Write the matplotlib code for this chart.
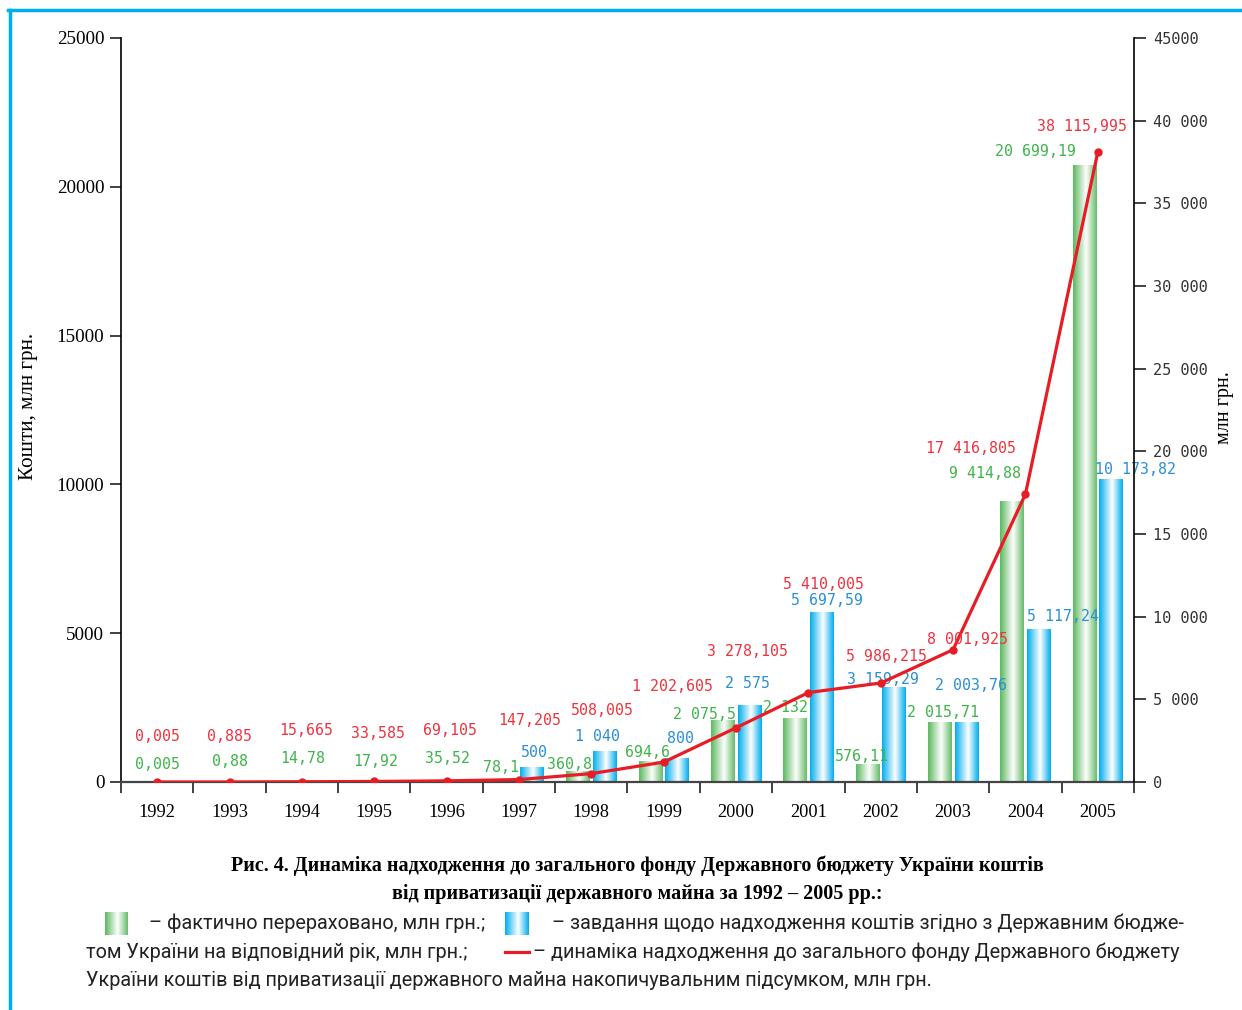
import numpy as np
import matplotlib
matplotlib.use('Agg')
import matplotlib.pyplot as plt
from matplotlib.colors import LinearSegmentedColormap
from matplotlib.lines import Line2D

# дані
years = ['1992', '1993', '1994', '1995', '1996', '1997', '1998',
         '1999', '2000', '2001', '2002', '2003', '2004', '2005']
fact = [0.005, 0.88, 14.78, 17.92, 35.52, 78.1, 360.8, 694.6,
        2075.5, 2132, 576.11, 2015.71, 9414.88, 20699.19]
plan = [0, 0, 0, 0, 0, 500, 1040, 800, 2575, 5697.59, 3159.29,
        2003.76, 5117.24, 10173.82]
cumul = [0.005, 0.885, 15.665, 33.585, 69.105, 147.205, 508.005, 1202.605,
         3278.105, 5410.005, 5986.215, 8001.925, 17416.805, 38115.995]

left_ticks = [0, 5000, 10000, 15000, 20000, 25000]
right_ticks = [0, 5000, 10000, 15000, 20000, 25000, 30000, 35000, 40000, 45000]
right_labels = ['0', '5 000', '10 000', '15 000', '20 000', '25 000',
                '30 000', '35 000', '40 000', '45000']

# зсуви підписів (пікселі)
red_off = [(0, 45), (0, 45), (4, 51), (4, 48), (3, 50), (11, 59), (11, 63),
           (9, 76), (11, 76), (15, 108), (6, 27), (14, 10), (-54, 46), (-16, 25)]
green_off = [(14, 17), (14, 20), (14, 23), (15, 20), (14, 22), (-5, 12), (-9, 7),
             (-3, 9), (-18, 6), (-10, 11), (-6, 8), (3, 10), (-27, 28), (-49, 14)]
blue_off = [None] * 5 + [(2, 15), (-7, 15), (4, 20), (-2, 22), (5, 12), (-11, 8),
                         (5, 37), (24, 13), (24, 10)]


def fmt(v):
    s = f"{v:.3f}".rstrip('0').rstrip('.')
    if '.' in s:
        ip, dp = s.split('.')
    else:
        ip, dp = s, ''
    ip = f"{int(ip):,}".replace(',', ' ')
    return ip + (',' + dp if dp else '')


W, H = 1242, 1010
fig = plt.figure(figsize=(W / 100, H / 100), dpi=100)
ax = fig.add_axes([121 / W, 1 - 782 / H, (1134 - 121) / W, (782 - 38) / H])
ax2 = ax.twinx()

green_cmap = LinearSegmentedColormap.from_list('g', [(0, '#5cb85f'), (0.55, '#ffffff'), (1, '#66bd6a')])
blue_cmap = LinearSegmentedColormap.from_list('b', [(0, '#00aeef'), (0.55, '#ffffff'), (1, '#00aeef')])
grad = np.linspace(0, 1, 64).reshape(1, -1)

x = np.arange(len(years))
bw = 0.325
gb = ax.bar(x - 0.183, fact, bw, color='none', zorder=2)
bb = ax.bar(x + 0.183, plan, bw, color='none', zorder=2)
for bars, cm in ((gb, green_cmap), (bb, blue_cmap)):
    for b in bars:
        x0, w, h = b.get_x(), b.get_width(), b.get_height()
        if h <= 0:
            continue
        ax.imshow(grad, cmap=cm, extent=[x0, x0 + w, 0, h], aspect='auto',
                  interpolation='bicubic', zorder=2)

ax2.plot(x, cumul, color='#e81c24', lw=2.3, marker='o', ms=5, zorder=3)

mono = 'DejaVu Sans Mono'
for i in range(len(years)):
    ax2.annotate(fmt(cumul[i]), (x[i], cumul[i]), xytext=red_off[i],
                 textcoords='offset pixels', ha='center', va='center',
                 color='#ee3340', fontsize=10.7, family=mono)
    ax.annotate(fmt(fact[i]), (x[i] - 0.183, fact[i]), xytext=green_off[i],
                textcoords='offset pixels', ha='center', va='center',
                color='#3db54a', fontsize=10.7, family=mono, zorder=4)
    if plan[i] > 0:
        ax.annotate(fmt(plan[i]), (x[i] + 0.183, plan[i]), xytext=blue_off[i],
                    textcoords='offset pixels', ha='center', va='center',
                    color='#2a8fd6', fontsize=10.7, family=mono, zorder=4)

ax.set_xlim(-0.5, len(years) - 0.5)
ax.set_ylim(0, 25000)
ax2.set_ylim(0, 45000)

ax.set_xticks(np.arange(-0.5, len(years)), [''] * (len(years) + 1))
ax.set_xticks(x, years, minor=True)
ax.tick_params(axis='x', which='major', length=8, width=1.3, direction='out', color='#333')
ax.tick_params(axis='x', which='minor', length=0, pad=16, labelsize=13.2)
for t in ax.get_xticklabels(minor=True):
    t.set_family('Liberation Serif')

ax.set_yticks(left_ticks, [str(v) for v in left_ticks])
ax.tick_params(axis='y', length=8, width=1.3, pad=4, labelsize=13.8, color='#333')
for t in ax.get_yticklabels():
    t.set_family('Liberation Serif')

ax2.set_yticks(right_ticks, right_labels)
ax2.tick_params(axis='y', length=8.5, width=1.3, pad=5, labelsize=11, color='#333')
for t in ax2.get_yticklabels():
    t.set_family(mono)
    t.set_color('#333')

for s in ('top', 'right'):
    ax.spines[s].set_visible(False)
ax2.spines['top'].set_visible(False)
ax2.spines['left'].set_visible(False)
ax2.spines['bottom'].set_visible(False)
ax.spines['left'].set_linewidth(1.2)
ax.spines['bottom'].set_linewidth(1.6)
ax.spines['bottom'].set_color('#444')
ax2.spines['right'].set_linewidth(1.2)

fig.text(29 / W, 1 - 406 / H, 'Кошти, млн грн.', rotation=90, ha='center', va='center',
         fontsize=15.2, family='Liberation Serif')
fig.text(1225 / W, 1 - 408 / H, 'млн грн.', rotation=90, ha='center', va='center',
         fontsize=14.5, family='Liberation Serif')

# підпис
cap = dict(ha='center', va='center', fontsize=14.5, fontweight='bold', family='Liberation Serif')
fig.text(637 / W, 1 - 866 / H,
         'Рис. 4. Динаміка надходження до загального фонду Державного бюджету України коштів', **cap)
fig.text(637 / W, 1 - 894 / H,
         'від приватизації державного майна за 1992 – 2005 рр.:', **cap)

lg = dict(va='center', ha='left', fontsize=14.3, family=['Roboto', 'DejaVu Sans'],
          color='#222')
fig.text(149 / W, 1 - 923 / H, '– фактично перераховано, млн грн.;', **lg)
fig.text(552 / W, 1 - 923 / H,
         '– завдання щодо надходження коштів згідно з Державним бюдже-', **lg)
fig.text(86 / W, 1 - 952 / H, 'том України на відповідний рік, млн грн.;', **lg)
fig.text(533 / W, 1 - 952 / H,
         '– динаміка надходження до загального фонду Державного бюджету', **lg)
fig.text(86 / W, 1 - 980 / H,
         'України коштів від приватизації державного майна накопичувальним підсумком, млн грн.', **lg)

for x0, cm in ((105, green_cmap), (505, blue_cmap)):
    pa = fig.add_axes([x0 / W, 1 - 935 / H, 23 / W, 23 / H])
    pa.imshow(grad, cmap=cm, aspect='auto', interpolation='bicubic')
    pa.axis('off')
fig.add_artist(Line2D([505 / W, 529 / W], [1 - 952 / H] * 2, color='#e81c24', lw=2.3))

# рамка
fig.add_artist(Line2D([8 / W, 1], [1 - 9.5 / H] * 2, color='#00aeef', lw=2.5))
fig.add_artist(Line2D([9.5 / W, 9.5 / W], [0, 1 - 9.5 / H], color='#00aeef', lw=2.5))

fig.savefig('out.png', dpi=100)
